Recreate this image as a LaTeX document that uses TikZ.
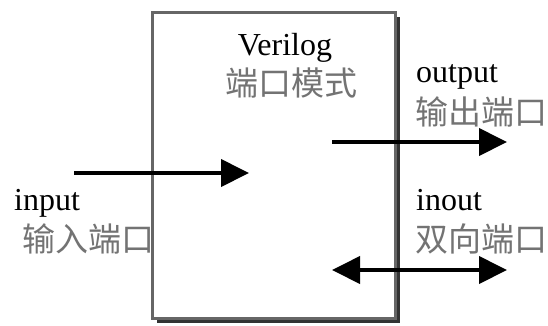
\documentclass[tikz,border=0pt]{standalone}
\usepackage{fontspec}
\setmainfont{Liberation Serif}
\newfontfamily\cjk{Noto Sans CJK SC}
\usetikzlibrary{arrows.meta,shadows}
\begin{document}
\begin{tikzpicture}[x=1pt,y=-1pt,
  lat/.style={font=\fontsize{32}{34}\selectfont, text=black, inner sep=0pt},
  cn/.style={font=\cjk\fontsize{33}{35}\selectfont, text=black!55, inner sep=0pt},
  port/.style={line width=4pt, -{Triangle[length=28pt,width=27pt]}},
  biport/.style={line width=4pt, {Triangle[length=28pt,width=27pt]}-{Triangle[length=28pt,width=27pt]}},
  modbox/.style={draw=black!60, line width=3pt, fill=white, inner sep=0pt, outer sep=0pt,
    minimum width=243pt, minimum height=306pt,
    drop shadow={shadow xshift=5pt, shadow yshift=-5pt, fill=black!80, opacity=1}}]
\useasboundingbox (0,0) rectangle (548,325);
\node[modbox, anchor=north west] (box) at (152,12) {};
\node[lat, anchor=base] (verilog) at (285,55) {Verilog};
\node[cn] (mode) at (291,83) {端口模式};
\node[lat, anchor=base west] (outlbl) at (416,82) {output};
\node[cn, anchor=west] (outcn) at (415,112) {输出端口};
\node[lat, anchor=base west] (inlbl) at (14,210) {input};
\node[cn, anchor=west] (incn) at (22,239) {输入端口};
\node[lat, anchor=base west] (iolbl) at (416,210) {inout};
\node[cn, anchor=west] (iocn) at (415,239) {双向端口};
\coordinate (in1) at (74,173);
\coordinate (in2) at (249,173);
\coordinate (out1) at (332,142);
\coordinate (out2) at (507,142);
\coordinate (io1) at (332,270);
\coordinate (io2) at (507,270);
\draw[port] (in1) -- (in2);
\draw[port] (out1) -- (out2);
\draw[biport] (io1) -- (io2);
\end{tikzpicture}
\end{document}
